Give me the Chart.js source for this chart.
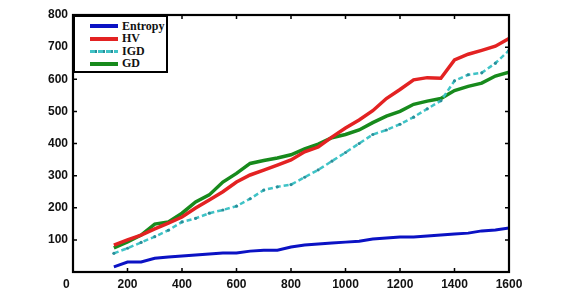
<!DOCTYPE html>
<html><head><meta charset="utf-8">
<script src="https://cdn.jsdelivr.net/npm/chart.js@4/dist/chart.umd.min.js"></script>
<style>
html,body{margin:0;padding:0;background:#fff;}
#wrap{position:relative;width:563px;height:299px;background:#fff;}
#legend{position:absolute;box-sizing:border-box;border:2px solid #000;background:#fff;font:bold 12px "Liberation Serif","Times New Roman",serif;color:#111;padding:3px 0 0 0;}
.row{display:flex;align-items:center;height:12.5px;}
.sw{width:28px;margin-left:15px;margin-right:4px;position:relative;height:4px;}
</style></head><body>
<div id="wrap"><canvas id="c" width="563" height="299"></canvas><div id="legend"></div></div>
<script>
const labels = ["Entropy","HV","IGD","GD"];
const xs = [150,200,250,300,350,400,450,500,550,600,650,700,750,800,850,900,950,1000,1050,1100,1150,1200,1250,1300,1350,1400,1450,1500,1550,1600];
const entropy = [16,31,31,43,47,50,53,56,59,59,65,68,68,78,84,87,90,93,96,103,106,109,109,112,115,118,121,128,131,137];
const hv = [84,100,115,134,152,171,199,224,250,280,302,317,333,349,374,389,420,448,473,502,540,568,598,605,603,660,678,690,703,727];
const igd = [58,74,92,110,130,156,167,183,193,205,228,255,265,272,295,318,345,372,400,428,442,460,482,508,533,595,614,620,650,690];
const gd = [75,94,115,149,156,183,218,240,280,307,338,347,355,365,383,398,418,428,442,465,485,500,522,532,540,565,578,588,610,622];
const xTicks = [0,200,400,600,800,1000,1200,1400,1600];
const yTicks = [0,100,200,300,400,500,600,700,800];
const colors = ["#0b12c4","#e32222","#3fc3c6","#178a1c"];

const pts = arr => arr.map((v,i)=>({x:xs[i],y:v}));

const frame = {
  id:'frame',
  afterDraw(ch){
    const ctx=ch.ctx, a=ch.chartArea, sx=ch.scales.x, sy=ch.scales.y;
    ctx.save();
    ctx.strokeStyle='#000';
    ctx.lineWidth=1.5;
    const L=4;
    ctx.beginPath();
    xTicks.forEach(t=>{ if(t===0||t===1600) return; const p=sx.getPixelForValue(t);
      ctx.moveTo(p,a.bottom); ctx.lineTo(p,a.bottom-L);
      ctx.moveTo(p,a.top); ctx.lineTo(p,a.top+L); });
    yTicks.forEach(t=>{ if(t===0||t===800) return; const p=sy.getPixelForValue(t);
      ctx.moveTo(a.left,p); ctx.lineTo(a.left+L,p);
      ctx.moveTo(a.right,p); ctx.lineTo(a.right-L,p); });
    ctx.stroke();
    ctx.lineWidth=2.2;
    ctx.strokeRect(a.left,a.top,a.right-a.left,a.bottom-a.top);
    ctx.restore();
  }
};

const tickFont={family:'"Liberation Sans", Arial, sans-serif',size:12,weight:'bold'};
const chart = new Chart(document.getElementById('c'),{
  type:'line',
  data:{datasets:[
    {label:labels[0],data:pts(entropy),borderColor:colors[0],borderWidth:3,pointRadius:0,tension:0},
    {label:labels[1],data:pts(hv),borderColor:colors[1],borderWidth:3.5,pointRadius:0,tension:0},
    {label:labels[2],data:pts(igd),borderColor:colors[2],borderWidth:2.5,borderDash:[5,3],pointRadius:1.6,pointBackgroundColor:'#2a8e99',pointBorderWidth:0,tension:0},
    {label:labels[3],data:pts(gd),borderColor:colors[3],borderWidth:3.5,pointRadius:0,tension:0}
  ]},
  options:{
    responsive:false,animation:false,devicePixelRatio:1,
    layout:{padding:{left:0,right:54,top:15,bottom:0}},
    plugins:{legend:{display:false},tooltip:{enabled:false}},
    scales:{
      x:{type:'linear',min:0,max:1600,
        afterBuildTicks:s=>{s.ticks=xTicks.map(v=>({value:v}));},
        afterFit:s=>{s.height=27;},
        grid:{display:false,drawTicks:false},border:{display:false},
        ticks:{padding:5,color:'#111',font:tickFont,maxRotation:0,autoSkip:false,
          callback:v=>v===0?'0    ':String(v)}},
      y:{min:0,max:800,
        afterBuildTicks:s=>{s.ticks=yTicks.map(v=>({value:v}));},
        afterFit:s=>{s.width=73;},
        grid:{display:false,drawTicks:false},border:{display:false},
        ticks:{padding:5,color:'#111',font:tickFont,callback:v=>v===0?'':String(v)}}
    }
  },
  plugins:[frame]
});

const lg=document.getElementById('legend');
const a=chart.chartArea;
lg.style.left=a.left+'px'; lg.style.top=a.top+'px';
lg.style.width='95px'; lg.style.height='58px';
labels.forEach((t,i)=>{
  const r=document.createElement('div'); r.className='row';
  const sw=document.createElement('div'); sw.className='sw';
  if(i===2){
    sw.style.background='repeating-linear-gradient(90deg,'+colors[2]+' 0 5px,#2a8e99 5px 7px,transparent 7px 8px)';
    sw.style.height='3px';
  } else { sw.style.background=colors[i]; }
  const sp=document.createElement('span'); sp.textContent=t;
  r.appendChild(sw); r.appendChild(sp); lg.appendChild(r);
});
</script>
</body></html>
